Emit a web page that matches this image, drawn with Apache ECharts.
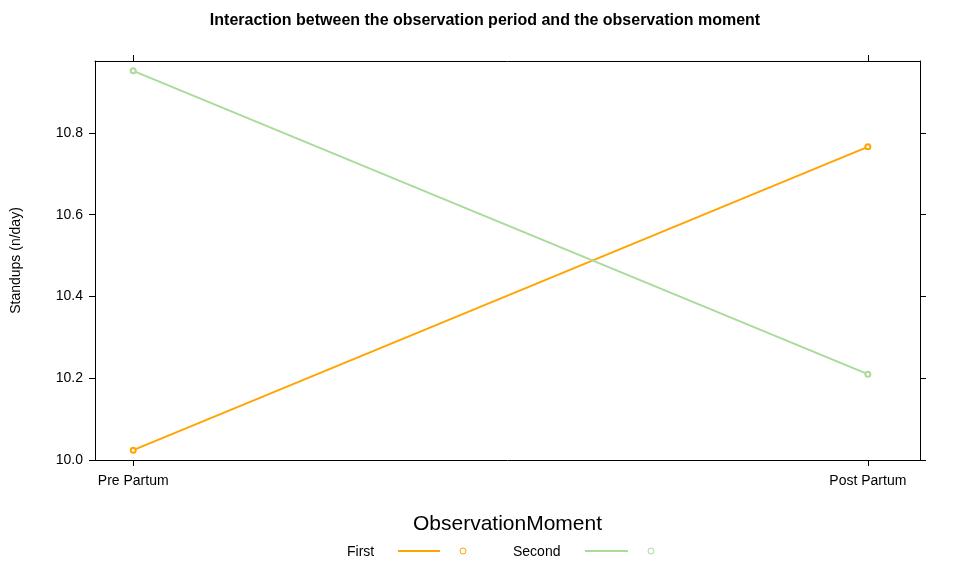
<!DOCTYPE html>
<html lang="en">
<head>
<meta charset="UTF-8">
<title>Interaction plot</title>
<script src="https://cdn.jsdelivr.net/npm/echarts@6/dist/echarts.min.js"></script>
</head>
<body style="margin:0;background:#fff;">
<div id="main" style="width:960px;height:576px;"></div>
<script>
// categories along x (positions 0 and 1)
var moments = ['Pre Partum', 'Post Partum'];
// standups per day
var firstVals = [10.024, 10.766];
var secondVals = [10.952, 10.210];
var yTicks = [10.0, 10.2, 10.4, 10.6, 10.8];

var orange = '#FFA500';
var green = '#A8DB9C';
var font = 'Liberation Sans, Arial, sans-serif';

function pts(vals) {
    return vals.map(function (v, i) { return [i, v]; });
}

var chart = echarts.init(document.getElementById('main'));

var xBase = {
    type: 'value', min: -0.052, max: 1.071,
    splitLine: { show: false },
    axisLine: { show: true, onZero: false, lineStyle: { color: '#000' } },
    axisTick: { show: true, customValues: [0, 1], length: 6, lineStyle: { color: '#000' } },
    axisLabel: {
        customValues: [0, 1], color: '#000', fontSize: 14, fontFamily: font, margin: 14,
        formatter: function (v) { return moments[Math.round(v)]; }
    }
};
var yBase = {
    type: 'value', min: 10.0, max: 10.976,
    splitLine: { show: false },
    axisLine: { show: true, onZero: false, lineStyle: { color: '#000' } },
    axisTick: { show: true, customValues: yTicks, length: 6, lineStyle: { color: '#000' } },
    axisLabel: {
        customValues: yTicks, color: '#000', fontSize: 14, fontFamily: font, margin: 12,
        formatter: function (v) { return v.toFixed(1); }
    }
};

chart.setOption({
    animation: false,
    title: {
        text: 'Interaction between the observation period and the observation moment',
        left: 480, textAlign: 'center', top: 8,
        textStyle: { fontSize: 16, fontWeight: 'bold', fontFamily: font, color: '#000' }
    },
    grid: { left: 95, right: 40, top: 61, bottom: 116 },
    xAxis: [
        Object.assign({}, xBase, {
            position: 'bottom',
            name: 'ObservationMoment', nameLocation: 'middle', nameGap: 54,
            nameTextStyle: { fontSize: 21, fontFamily: font, color: '#000' }
        }),
        Object.assign({}, xBase, { position: 'top', axisLabel: { show: false } })
    ],
    yAxis: [
        Object.assign({}, yBase, {
            position: 'left',
            name: 'Standups (n/day)', nameLocation: 'middle', nameGap: 72,
            nameTextStyle: { fontSize: 14, fontFamily: font, color: '#000' }
        }),
        Object.assign({}, yBase, { position: 'right', axisLabel: { show: false } })
    ],
    series: [
        {
            name: 'First', type: 'line', data: pts(firstVals),
            symbol: 'emptyCircle', symbolSize: 5,
            lineStyle: { color: orange, width: 2 }, itemStyle: { color: orange }
        },
        {
            name: 'Second', type: 'line', data: pts(secondVals),
            symbol: 'emptyCircle', symbolSize: 5,
            lineStyle: { color: green, width: 2 }, itemStyle: { color: green }
        }
    ],
    graphic: [
        { type: 'text', left: 347, top: 545, style: { text: 'First', fontSize: 14, fontFamily: font, fill: '#000' } },
        { type: 'line', shape: { x1: 398, y1: 551, x2: 440, y2: 551 }, style: { stroke: orange, lineWidth: 2 } },
        { type: 'circle', shape: { cx: 463, cy: 551, r: 3 }, style: { fill: 'none', stroke: orange, lineWidth: 1 } },
        { type: 'text', left: 513, top: 545, style: { text: 'Second', fontSize: 14, fontFamily: font, fill: '#000' } },
        { type: 'line', shape: { x1: 585, y1: 551, x2: 628, y2: 551 }, style: { stroke: green, lineWidth: 2 } },
        { type: 'circle', shape: { cx: 651, cy: 551, r: 3 }, style: { fill: 'none', stroke: green, lineWidth: 1 } }
    ]
});
</script>
</body>
</html>
